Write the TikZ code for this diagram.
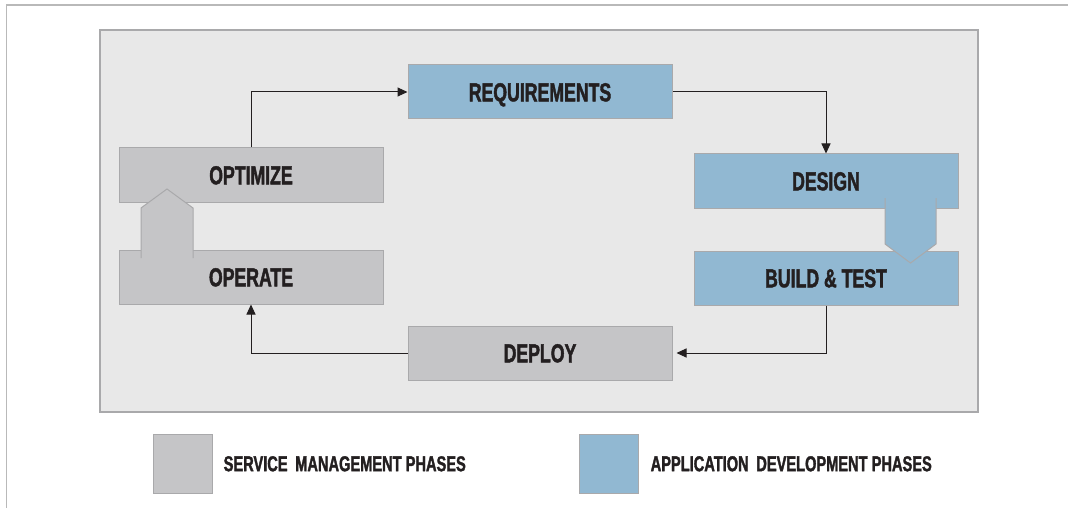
\documentclass[tikz,border=0pt]{standalone}
\usepackage{fontspec}
\newfontfamily\phasefont[FakeStretch=0.68, BoldFeatures={FakeBold=1.6}]{Liberation Sans}
\usetikzlibrary{positioning, arrows.meta}
\definecolor{smgray}{HTML}{C5C5C7}
\definecolor{adblue}{HTML}{91B8D2}
\definecolor{edgegray}{HTML}{A9A9AB}
\definecolor{panelgray}{HTML}{E8E8E8}
\definecolor{framegray}{HTML}{B9B9B9}
\definecolor{inkblack}{HTML}{231F20}
\tikzset{
    x=1pt, y=-1pt, % one unit is one pixel of the reference, y runs downwards
    >={Triangle[length=10pt,width=9pt]}, % solid arrow heads
    node distance=47pt, % gap between the stacked boxes
    phase/.style={draw=edgegray, line width=1pt, minimum width=264pt, minimum height=54pt, inner sep=0pt, text height=18.6pt, text depth=0pt, text=inkblack, font=\phasefont\bfseries\fontsize{26}{30}\selectfont}, % every phase box
    smphase/.style={phase, fill=smgray}, % service management phases
    adphase/.style={phase, fill=adblue}, % application development phases
    flow/.style={->, draw=inkblack, line width=1pt}, % thin connectors
    swatch/.style={draw=edgegray, line width=1pt, minimum size=59pt, inner sep=0pt}, % legend squares
    legendtext/.style={anchor=west, inner sep=0pt, text height=15.4pt, text depth=0pt, text=inkblack, font=\phasefont\bfseries\fontsize{21.5}{24}\selectfont},
    }
\begin{document}
\begin{tikzpicture}
\useasboundingbox (0,0) rectangle (1068,508);

% outer frame and panel
\draw[framegray, line width=1.5pt] (6.5,508) -- (6.5,5) -- (1068,5);
\draw[edgegray, fill=panelgray, line width=1.2pt] (100,30) rectangle (978,412);

\node[adphase] (requirements) at (540,92) {REQUIREMENTS};
\node[adphase] (design) at (826,181) {DESIGN};
\node[adphase, below=42pt of design] (build) {BUILD \& TEST};
\node[smphase] (deploy) at (540,353) {DEPLOY};
\node[smphase] (optimize) at (251,175) {OPTIMIZE};
\node[smphase, below=47pt of optimize] (operate) {OPERATE};

\draw[flow] (optimize.north) |- (requirements.west);
\draw[flow] (requirements.east) -| (design.north);
\draw[flow] (build.south) |- ([xshift=4pt]deploy.east);
\draw[flow] (deploy.west) -| (operate.south);

% block arrows between the stacked boxes
\fill[smgray] (141,258) -- (141,208) -- (167,189) -- (193,208) -- (193,258) -- cycle;
\draw[edgegray, line width=1pt] (141,258) -- (141,208) -- (167,189) -- (193,208) -- (193,258);
\fill[adblue] (885,198) -- (885,244) -- (910.5,263) -- (936,244) -- (936,198) -- cycle;
\draw[edgegray, line width=1pt] (885,198) -- (885,244) -- (910.5,263) -- (936,244) -- (936,198);

% legend
\node[swatch, fill=smgray] (smkey) at (182.5,463.5) {};
\node[legendtext, right=11pt of smkey] (smlabel) {SERVICE\, MANAGEMENT PHASES};
\node[swatch, fill=adblue] (adkey) at (608.5,463.5) {};
\node[legendtext, right=12pt of adkey] (adlabel) {APPLICATION\, DEVELOPMENT PHASES};

\end{tikzpicture}
\end{document}
